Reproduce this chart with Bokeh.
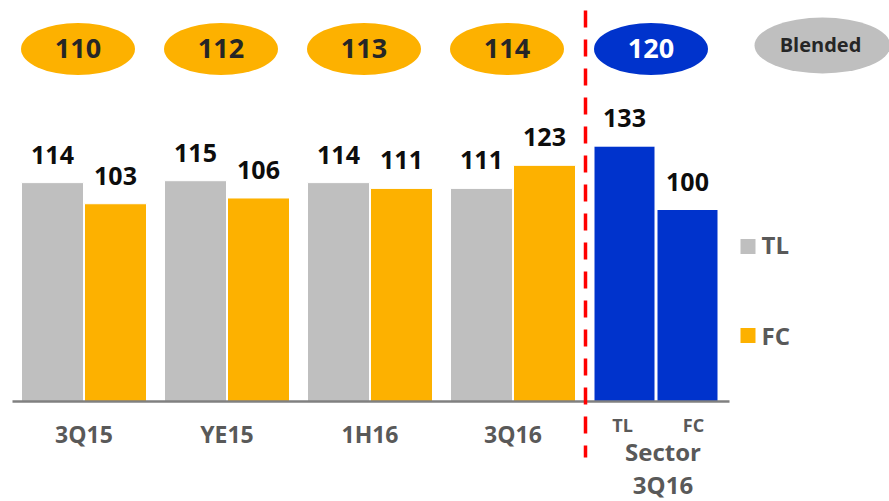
from bokeh.plotting import figure
from bokeh.models import Range1d, ColumnDataSource
from bokeh.core.properties import value
from bokeh.embed import file_html
from bokeh.resources import INLINE

# ---- data ----
periods = ["3Q15", "YE15", "1H16", "3Q16"]
tl_values = [114, 115, 114, 111]
fc_values = [103, 106, 111, 123]
sector_labels = ["TL", "FC"]
sector_values = [133, 100]
blended_values = [110, 112, 113, 114, 120]
blended_label = "Blended"
sector_title = ["Sector", "3Q16"]
legend_labels = ["TL", "FC"]

# ---- colours ----
GRAY = "#BFBFBF"
ORANGE = "#FDB100"
BLUE = "#0033CC"
TXT = "#595959"
DARK = "#262626"

W, H = 889, 501
BASE_PX = 401.0      # pixel row of zero
PX_PER_UNIT = 1.92
SH = -10             # baseline correction for text rendering

def ydata(py):
    return (BASE_PX - py) / PX_PER_UNIT

p = figure(width=W, height=H, output_backend="svg", toolbar_location=None,
           x_range=Range1d(0, W), y_range=Range1d(ydata(H), ydata(0)),
           min_border=0, outline_line_color=None)
p.axis.visible = False
p.grid.visible = False
p.background_fill_color = "white"
p.border_fill_color = "white"

STEP = 143.0
C0 = 83.5
BW = 62
OFF = 31.5

centers = [C0 + STEP * i for i in range(len(periods))]
sector_center = C0 + STEP * len(periods)

# bars
tl_src = ColumnDataSource(dict(x=[c - OFF for c in centers], top=tl_values,
                               lab=[str(v) for v in tl_values]))
fc_src = ColumnDataSource(dict(x=[c + OFF for c in centers], top=fc_values,
                               lab=[str(v) for v in fc_values]))
sec_src = ColumnDataSource(dict(x=[sector_center - OFF, sector_center + OFF],
                                top=sector_values,
                                lab=[str(v) for v in sector_values]))

p.vbar(x="x", top="top", bottom=0, width=BW, source=tl_src,
       fill_color=GRAY, line_color="white", line_width=1)
p.vbar(x="x", top="top", bottom=0, width=BW, source=fc_src,
       fill_color=ORANGE, line_color="white", line_width=1)
p.vbar(x="x", top="top", bottom=0, width=BW - 1, source=sec_src,
       fill_color=BLUE, line_color="white", line_width=1)

# value labels
for src in (tl_src, fc_src, sec_src):
    p.text(x="x", y="top", text="lab", source=src, text_align="center",
           text_baseline="alphabetic", y_offset=-18 + SH,
           text_font=value("Open Sans"), text_font_style="bold",
           text_font_size="25px", text_color="#0D0D0D")

# axis baseline
p.segment(x0=[12], y0=[0], x1=[729], y1=[0], line_color="#808080", line_width=2.5)

# category labels
p.text(x=centers, y=[ydata(443)] * len(centers), text=periods,
       text_align="center", text_baseline="alphabetic", y_offset=SH,
       text_font=value("Open Sans"), text_font_style="bold",
       text_font_size="23px", text_color=TXT)
p.text(x=[sector_center - OFF - 2, sector_center + OFF + 6],
       y=[ydata(432)] * 2, text=sector_labels, y_offset=SH + 2,
       text_align="center", text_baseline="alphabetic",
       text_font=value("Open Sans"), text_font_style="bold",
       text_font_size="18px", text_color=TXT)
p.text(x=[sector_center + 7] * 2, y=[ydata(461), ydata(494)], text=sector_title,
       text_align="center", text_baseline="alphabetic", y_offset=SH,
       text_font=value("Open Sans"), text_font_style="bold",
       text_font_size="24px", text_color=TXT)

# red dashed divider
p.segment(x0=[585], y0=[ydata(10)], x1=[585], y1=[ydata(457)],
          line_color="#FF0000", line_width=3.5, line_dash="17 12")

# blended ellipses
ell_x = [c - 6 for c in centers] + [sector_center - 5]
ell_colors = [ORANGE] * len(periods) + [BLUE]
ell_text_colors = [DARK] * len(periods) + ["white"]
ell_y = ydata(48.5)
p.ellipse(x=ell_x, y=[ell_y] * len(ell_x), width=114, height=52,
          width_units="screen", height_units="screen",
          fill_color=ell_colors, line_color=None)
p.text(x=ell_x, y=[ell_y] * len(ell_x), text=[str(v) for v in blended_values],
       text_align="center", text_baseline="alphabetic", y_offset=10.5 + SH - 1,
       text_font=value("Open Sans"), text_font_style="bold",
       text_font_size="27px", text_color=ell_text_colors)

p.ellipse(x=[822], y=[ydata(45)], width=136, height=56,
          width_units="screen", height_units="screen",
          fill_color=GRAY, line_color=None)
p.text(x=[820], y=[ydata(54)], text=[blended_label], text_align="center",
       text_baseline="alphabetic", y_offset=SH,
       text_font=value("Open Sans"), text_font_style="bold",
       text_font_size="20px", text_color=DARK)

# legend
p.scatter(x=[747.5, 747.5], y=[ydata(246), ydata(335)], marker="square",
          size=15, fill_color=[GRAY, ORANGE], line_color=None)
p.text(x=[761, 761], y=[ydata(254), ydata(345)], text=legend_labels,
       text_align="left", text_baseline="alphabetic", y_offset=SH,
       text_font=value("Open Sans"), text_font_style="bold",
       text_font_size="24px", text_color=TXT)

open("out.html", "w").write(file_html(p, INLINE))
